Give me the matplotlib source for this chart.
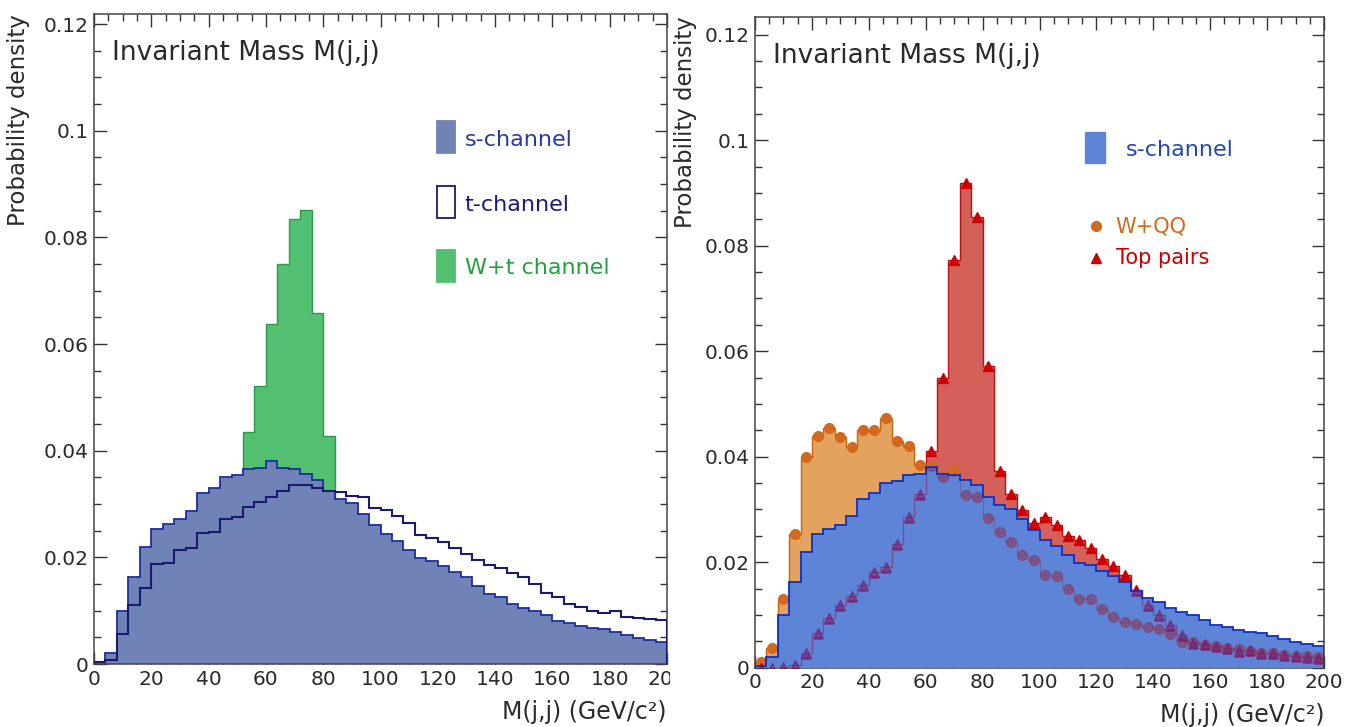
import matplotlib
matplotlib.use('Agg')
import matplotlib.pyplot as plt
import numpy as np
from matplotlib.patches import Rectangle
from matplotlib.lines import Line2D
from matplotlib.transforms import Bbox, TransformedBbox

plt.rcParams['font.family'] = ['DejaVu Sans']

# 50 bins of 4 GeV/c^2 between 0 and 200
bin_edges = np.arange(0, 204, 4)

s_channel = [0.0003, 0.0020, 0.0099, 0.0163, 0.0219, 0.0253, 0.0262, 0.0271, 0.0287, 0.0320,
             0.0331, 0.0351, 0.0354, 0.0366, 0.0367, 0.0380, 0.0368, 0.0366, 0.0356, 0.0346,
             0.0324, 0.0309, 0.0301, 0.0281, 0.0261, 0.0243, 0.0231, 0.0213, 0.0198, 0.0194,
             0.0183, 0.0173, 0.0163, 0.0146, 0.0132, 0.0125, 0.0113, 0.0105, 0.0099, 0.0091,
             0.0081, 0.0077, 0.0071, 0.0067, 0.0065, 0.0060, 0.0054, 0.0049, 0.0045, 0.0041]

t_channel = [0.0003, 0.0008, 0.0057, 0.0110, 0.0143, 0.0187, 0.0190, 0.0214, 0.0217, 0.0245,
             0.0247, 0.0272, 0.0275, 0.0294, 0.0304, 0.0313, 0.0324, 0.0336, 0.0335, 0.0330,
             0.0325, 0.0322, 0.0316, 0.0313, 0.0292, 0.0288, 0.0278, 0.0264, 0.0242, 0.0236,
             0.0228, 0.0217, 0.0206, 0.0195, 0.0186, 0.0180, 0.0170, 0.0163, 0.0150, 0.0134,
             0.0126, 0.0112, 0.0106, 0.0099, 0.0095, 0.0099, 0.0089, 0.0087, 0.0084, 0.0082]

wt_channel = [0.0000, 0.0000, 0.0010, 0.0030, 0.0060, 0.0090, 0.0120, 0.0150, 0.0180, 0.0210,
              0.0250, 0.0290, 0.0320, 0.0436, 0.0522, 0.0638, 0.0750, 0.0834, 0.0852, 0.0659,
              0.0428, 0.0250, 0.0180, 0.0130, 0.0100, 0.0080, 0.0060, 0.0050, 0.0040, 0.0030,
              0.0030, 0.0020, 0.0020, 0.0020, 0.0010, 0.0010, 0.0010, 0.0010, 0.0010, 0.0010,
              0.0005, 0.0005, 0.0005, 0.0005, 0.0005, 0.0005, 0.0005, 0.0005, 0.0005, 0.0005]

w_qq = [0.0010, 0.0037, 0.0130, 0.0253, 0.0400, 0.0439, 0.0454, 0.0437, 0.0419, 0.0451,
        0.0451, 0.0474, 0.0430, 0.0420, 0.0385, 0.0382, 0.0362, 0.0372, 0.0327, 0.0324,
        0.0283, 0.0258, 0.0239, 0.0214, 0.0204, 0.0176, 0.0173, 0.0149, 0.0130, 0.0131,
        0.0111, 0.0097, 0.0087, 0.0082, 0.0078, 0.0073, 0.0063, 0.0049, 0.0048, 0.0043,
        0.0041, 0.0037, 0.0035, 0.0032, 0.0027, 0.0027, 0.0025, 0.0023, 0.0022, 0.0021]

top_pairs = [0.0000, 0.0000, 0.0002, 0.0005, 0.0027, 0.0065, 0.0095, 0.0118, 0.0135, 0.0157,
             0.0182, 0.0191, 0.0234, 0.0285, 0.0329, 0.0411, 0.0549, 0.0773, 0.0919, 0.0854,
             0.0572, 0.0372, 0.0329, 0.0299, 0.0275, 0.0286, 0.0270, 0.0250, 0.0242, 0.0226,
             0.0206, 0.0193, 0.0176, 0.0147, 0.0119, 0.0100, 0.0080, 0.0062, 0.0047, 0.0044,
             0.0042, 0.0037, 0.0032, 0.0033, 0.0028, 0.0027, 0.0024, 0.0022, 0.0021, 0.0019]

x_ticks = [0, 20, 40, 60, 80, 100, 120, 140, 160, 180, 200]
x_tick_labels = ['0', '20', '40', '60', '80', '100', '120', '140', '160', '180', '200']
y_ticks = [0, 0.02, 0.04, 0.06, 0.08, 0.10, 0.12]
y_tick_labels = ['0', '0.02', '0.04', '0.06', '0.08', '0.1', '0.12']

title_text = 'Invariant Mass M(j,j)'
x_title = 'M(j,j) (GeV/c²)'
y_title = 'Probability density'

FIG_W, FIG_H = 1359, 727
fig = plt.figure(figsize=(FIG_W / 100, FIG_H / 100), dpi=100)
fig.patch.set_facecolor('white')

ax1 = fig.add_axes([94 / FIG_W, 1 - 664 / FIG_H, 573 / FIG_W, 650 / FIG_H])
ax2 = fig.add_axes([755 / FIG_W, 1 - 667.7 / FIG_H, 569 / FIG_W, 651 / FIG_H])

TEXT_COL = '#2a2a2a'


def style_axes(ax, ytop):
    ax.set_xlim(0, 200)
    ax.set_ylim(0, ytop)
    ax.set_xticks(x_ticks, x_tick_labels)
    ax.set_yticks(y_ticks, y_tick_labels)
    ax.set_xticks(np.arange(0, 201, 5), minor=True)
    ax.set_yticks(np.arange(0, 0.1225, 0.005), minor=True)
    ax.tick_params(which='both', direction='in', top=True, right=True,
                   labelsize=14.5, color='#333333', labelcolor=TEXT_COL, width=1, pad=4)
    ax.tick_params(which='major', length=9)
    ax.tick_params(which='minor', length=5)
    for sp in ax.spines.values():
        sp.set_color('#444444')
        sp.set_linewidth(1.1)
    ax.set_xlabel(x_title, fontsize=17, loc='right', color=TEXT_COL)
    ax.set_ylabel(y_title, fontsize=16.5, loc='top', color=TEXT_COL)
    ax.text(0.031, 0.94, title_text, transform=ax.transAxes, fontsize=19,
            va='center', ha='left', color=TEXT_COL)


# ---- left panel: signal channels ----
style_axes(ax1, 0.1219)
ax1.xaxis.set_label_coords(1.0, -0.055)
ax1.yaxis.set_label_coords(-0.112, 1.0)

ax1.stairs(wt_channel, bin_edges, fill=True, facecolor='#52c070', edgecolor='none', zorder=1)
ax1.stairs(wt_channel, bin_edges, color='#2a9a48', lw=1.0, zorder=1.5)
ax1.stairs(s_channel, bin_edges, fill=True, facecolor='#6f83b6', edgecolor='none', zorder=2)
ax1.stairs(s_channel, bin_edges, color='#1e2e9e', lw=1.3, zorder=2.5)
ax1.stairs(t_channel, bin_edges, color='#1a1a70', lw=1.5, zorder=3)

# legend drawn by hand (tall ROOT-style boxes)
leg1 = [('s-channel', '#6f83b6', '#6f83b6', '#2a3a9a', 0.786, 0.806),
        ('t-channel', 'white', '#1a1a70', '#1a1a80', 0.686, 0.706),
        ('W+t channel', '#52c070', '#52c070', '#22a040', 0.588, 0.609)]
for label, face, edge, tcol, ybox, ytxt in leg1:
    ax1.add_patch(Rectangle((0.599, ybox), 0.031, 0.049, transform=ax1.transAxes,
                            facecolor=face, edgecolor=edge, lw=1.3, zorder=5))
    ax1.text(0.647, ytxt, label, transform=ax1.transAxes, fontsize=16,
             color=tcol, va='center', ha='left')

# the neighbouring picture cuts the last label of the left panel
clip = TransformedBbox(Bbox([[0, 0], [670 / FIG_W, 1]]), fig.transFigure)
for lab in ax1.get_xticklabels():
    lab.set_clip_box(clip)
    lab.set_clip_on(True)

# ---- right panel: signal vs backgrounds ----
style_axes(ax2, 0.1234)
ax2.xaxis.set_label_coords(1.0, -0.054)
ax2.yaxis.set_label_coords(-0.102, 1.0)

centers = (bin_edges[:-1] + bin_edges[1:]) / 2
ax2.stairs(w_qq, bin_edges, fill=True, facecolor='#e3a35f', edgecolor='none', zorder=1)
ax2.stairs(top_pairs, bin_edges, fill=True, facecolor='#d4605a', edgecolor='none', zorder=1.2)
ax2.stairs(w_qq, bin_edges, color='#c86414', lw=1.0, zorder=1.4)
ax2.stairs(top_pairs, bin_edges, color='#c01010', lw=1.0, zorder=1.5)
ax2.plot(centers, w_qq, 'o', color='#d2691e', ms=7, zorder=2)
ax2.plot(centers, top_pairs, '^', color='#cc0000', ms=7, zorder=2.1)
sig = ax2.stairs(s_channel, bin_edges, fill=True, facecolor='#5d84d6', edgecolor='none', zorder=3)
ax2.stairs(s_channel, bin_edges, color='#1030c0', lw=1.3, zorder=3.5)

# backgrounds seen through the open fill pattern of the signal
seen = [ax2.stairs(w_qq, bin_edges, color='#8a2a50', lw=0.9, alpha=0.35, zorder=3.2),
        ax2.stairs(top_pairs, bin_edges, color='#8a1040', lw=0.9, alpha=0.45, zorder=3.2)]
seen += ax2.plot(centers, w_qq, 'o', color='#8a3a60', ms=7, alpha=0.6, zorder=3.3)
seen += ax2.plot(centers, top_pairs, '^', color='#7a1a6a', ms=7, alpha=0.6, zorder=3.3)
for art in seen:
    art.set_clip_path(sig)

ax2.add_patch(Rectangle((0.580, 0.775), 0.035, 0.048, transform=ax2.transAxes,
                        facecolor='#5d84d6', edgecolor='#5d84d6', lw=1, zorder=5))
ax2.text(0.652, 0.795, 's-channel', transform=ax2.transAxes, fontsize=16,
         color='#2244bb', va='center', ha='left')
ax2.add_line(Line2D([0.599], [0.678], marker='o', color='#d2691e', ms=7,
                    transform=ax2.transAxes))
ax2.text(0.634, 0.678, 'W+QQ', transform=ax2.transAxes, fontsize=15,
         color='#d2691e', va='center', ha='left')
ax2.add_line(Line2D([0.599], [0.629], marker='^', color='#cc0000', ms=7,
                    transform=ax2.transAxes))
ax2.text(0.634, 0.629, 'Top pairs', transform=ax2.transAxes, fontsize=15,
         color='#cc0000', va='center', ha='left')

fig.savefig('out.png', dpi=100)
